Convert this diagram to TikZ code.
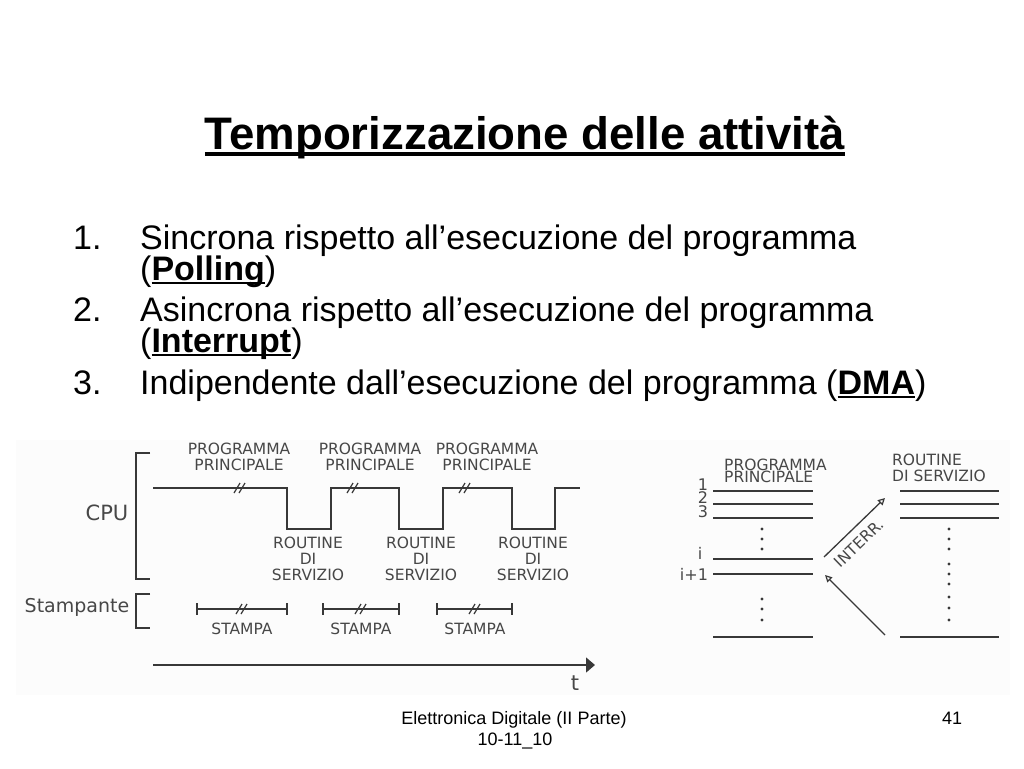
\documentclass[tikz,border=0pt]{standalone}
\usepackage{fontspec}
\setmainfont{Liberation Sans}
\newfontfamily\dgf{DejaVu Sans}
\usetikzlibrary{arrows.meta}
\newcommand\myul[3]{\setbox0\hbox{#1}\rlap{\rule[#2]{\wd0}{#3}}\box0}
\definecolor{ln}{gray}{0.22}
\definecolor{txt}{gray}{0.28}
\begin{document}
\begin{tikzpicture}[x=1pt,y=-1pt,
  ttl/.style={font=\fontsize{45.6}{54}\selectfont\bfseries, inner sep=0, anchor=base},
  body/.style={font=\fontsize{34}{38}\selectfont, inner sep=0, anchor=base west},
  foot/.style={font=\fontsize{18}{21}\selectfont, inner sep=0, anchor=base},
  lab/.style={font=\dgf\fontsize{15.5}{16}\selectfont, text=txt, inner sep=0, align=center},
  big/.style={font=\dgf\fontsize{21}{24}\selectfont, text=txt, inner sep=0},
  wave/.style={draw=ln, line width=1.3pt},
  brk/.pic={\draw[ln, line width=1.2pt] (-6,5) -- (0,-5) (-1,5) -- (5,-5);},
  oarr/.style={wave, -{Triangle[open, length=7pt, width=7pt, line width=1.2pt]}}
]
\useasboundingbox (0,0) rectangle (1024,768);
\fill[white] (0,0) rectangle (1024,768);
\fill[black!1] (16,440) rectangle (1010,695);

% title
\node[ttl] (title) at (525,149) {\myul{Temporizzazione delle attività}{-7pt}{4pt}};

% body
\node[body] (n1) at (73,249) {1.};
\node[body] (l1) at (140,249) {Sincrona rispetto all’esecuzione del programma};
\node[body] (l1b) at (140,280) {(\textbf{\myul{Polling}{-4pt}{2pt}})};
\node[body] (n2) at (73,321) {2.};
\node[body] (l2) at (140,321) {Asincrona rispetto all’esecuzione del programma};
\node[body] (l2b) at (140,352) {(\textbf{\myul{Interrupt}{-4pt}{2pt}})};
\node[body] (n3) at (73,394) {3.};
\node[body] (l3) at (140,394) {Indipendente dall’esecuzione del programma (\textbf{\myul{DMA}{-4pt}{2pt}})};

% footer
\node[foot] (f1) at (514,724) {Elettronica Digitale (II Parte)};
\node[foot] (f2) at (515,745) {10-11\_10};
\node[foot] (f3) at (952,724) {41};

% ---- left diagram ----
\draw[wave] (150,453) -- (136,453) -- (136,579) -- (150,579);
\draw[wave] (150,594) -- (136,594) -- (136,628) -- (150,628);
\node[big] (cpu) at (107,513) {CPU};
\node[big, font=\dgf\fontsize{19}{22}\selectfont] (stamp) at (77,607) {Stampante};

\draw[wave] (153,488) -- (287,488) -- (287,529) -- (331,529) -- (331,488) -- (399,488)
  -- (399,529) -- (443,529) -- (443,488) -- (512,488) -- (512,529) -- (555,529)
  -- (555,488) -- (580,488);
\pic at (240,488) {brk};
\pic at (353,488) {brk};
\pic at (465,488) {brk};

\node[lab] (pp1) at (239,457) {PROGRAMMA\\PRINCIPALE};
\node[lab] (pp2) at (370,457) {PROGRAMMA\\PRINCIPALE};
\node[lab] (pp3) at (487,457) {PROGRAMMA\\PRINCIPALE};
\node[lab] (rs1) at (308,559) {ROUTINE\\DI\\SERVIZIO};
\node[lab] (rs2) at (421,559) {ROUTINE\\DI\\SERVIZIO};
\node[lab] (rs3) at (533,559) {ROUTINE\\DI\\SERVIZIO};

\foreach \a/\b in {197/287, 323/399, 437/512}{
  \draw[wave] (\a,609) -- (\b,609) (\a,603) -- (\a,615) (\b,603) -- (\b,615);
}
\pic at (242,609) {brk};
\pic at (361,609) {brk};
\pic at (475,609) {brk};
\node[lab] (s1) at (242,629) {STAMPA};
\node[lab] (s2) at (361,629) {STAMPA};
\node[lab] (s3) at (475,629) {STAMPA};

\coordinate (t0) at (153,665);
\coordinate (t1) at (595,665);
\draw[line width=1.3pt, ln, -{Triangle[length=9pt, width=15pt]}] (t0) -- (t1);
\node[big] (tt) at (575,683) {t};

% ---- right diagram ----
\node[lab, align=left, anchor=west, font=\dgf\fontsize{15.5}{12}\selectfont] (ppr) at (724,471) {PROGRAMMA\\PRINCIPALE};
\node[lab, align=left, anchor=west] (rsr) at (892,468) {ROUTINE\\DI SERVIZIO};

\foreach \y in {491,504,518,559,574,637}{\draw[wave] (713,\y) -- (813,\y);}
\foreach \y in {491,504,518,637}{\draw[wave] (900,\y) -- (999,\y);}

\node[lab, font=\dgf\fontsize{16}{16}\selectfont] (k1) at (703,485) {1};
\node[lab, font=\dgf\fontsize{16}{16}\selectfont] (k2) at (703,498) {2};
\node[lab, font=\dgf\fontsize{16}{16}\selectfont] (k3) at (703,512) {3};
\node[lab, font=\dgf\fontsize{16}{16}\selectfont] (ki) at (700,553) {i};
\node[lab, font=\dgf\fontsize{16}{16}\selectfont] (ki1) at (694,574) {i+1};

\foreach \y in {529,539,549,599,609,620}{\fill[ln] (762,\y) circle (1.7);}
\foreach \y in {529,539,549,564,574,584,597,608,620}{\fill[ln] (949,\y) circle (1.7);}

\coordinate (a0) at (824,557);
\coordinate (a1) at (885,498);
\draw[oarr] (a0) -- (a1);
\node[lab, rotate=44] (intr) at (859,543) {INTERR.};
\coordinate (b0) at (885,635);
\coordinate (b1) at (825,575);
\draw[oarr] (b0) -- (b1);
\end{tikzpicture}
\end{document}
